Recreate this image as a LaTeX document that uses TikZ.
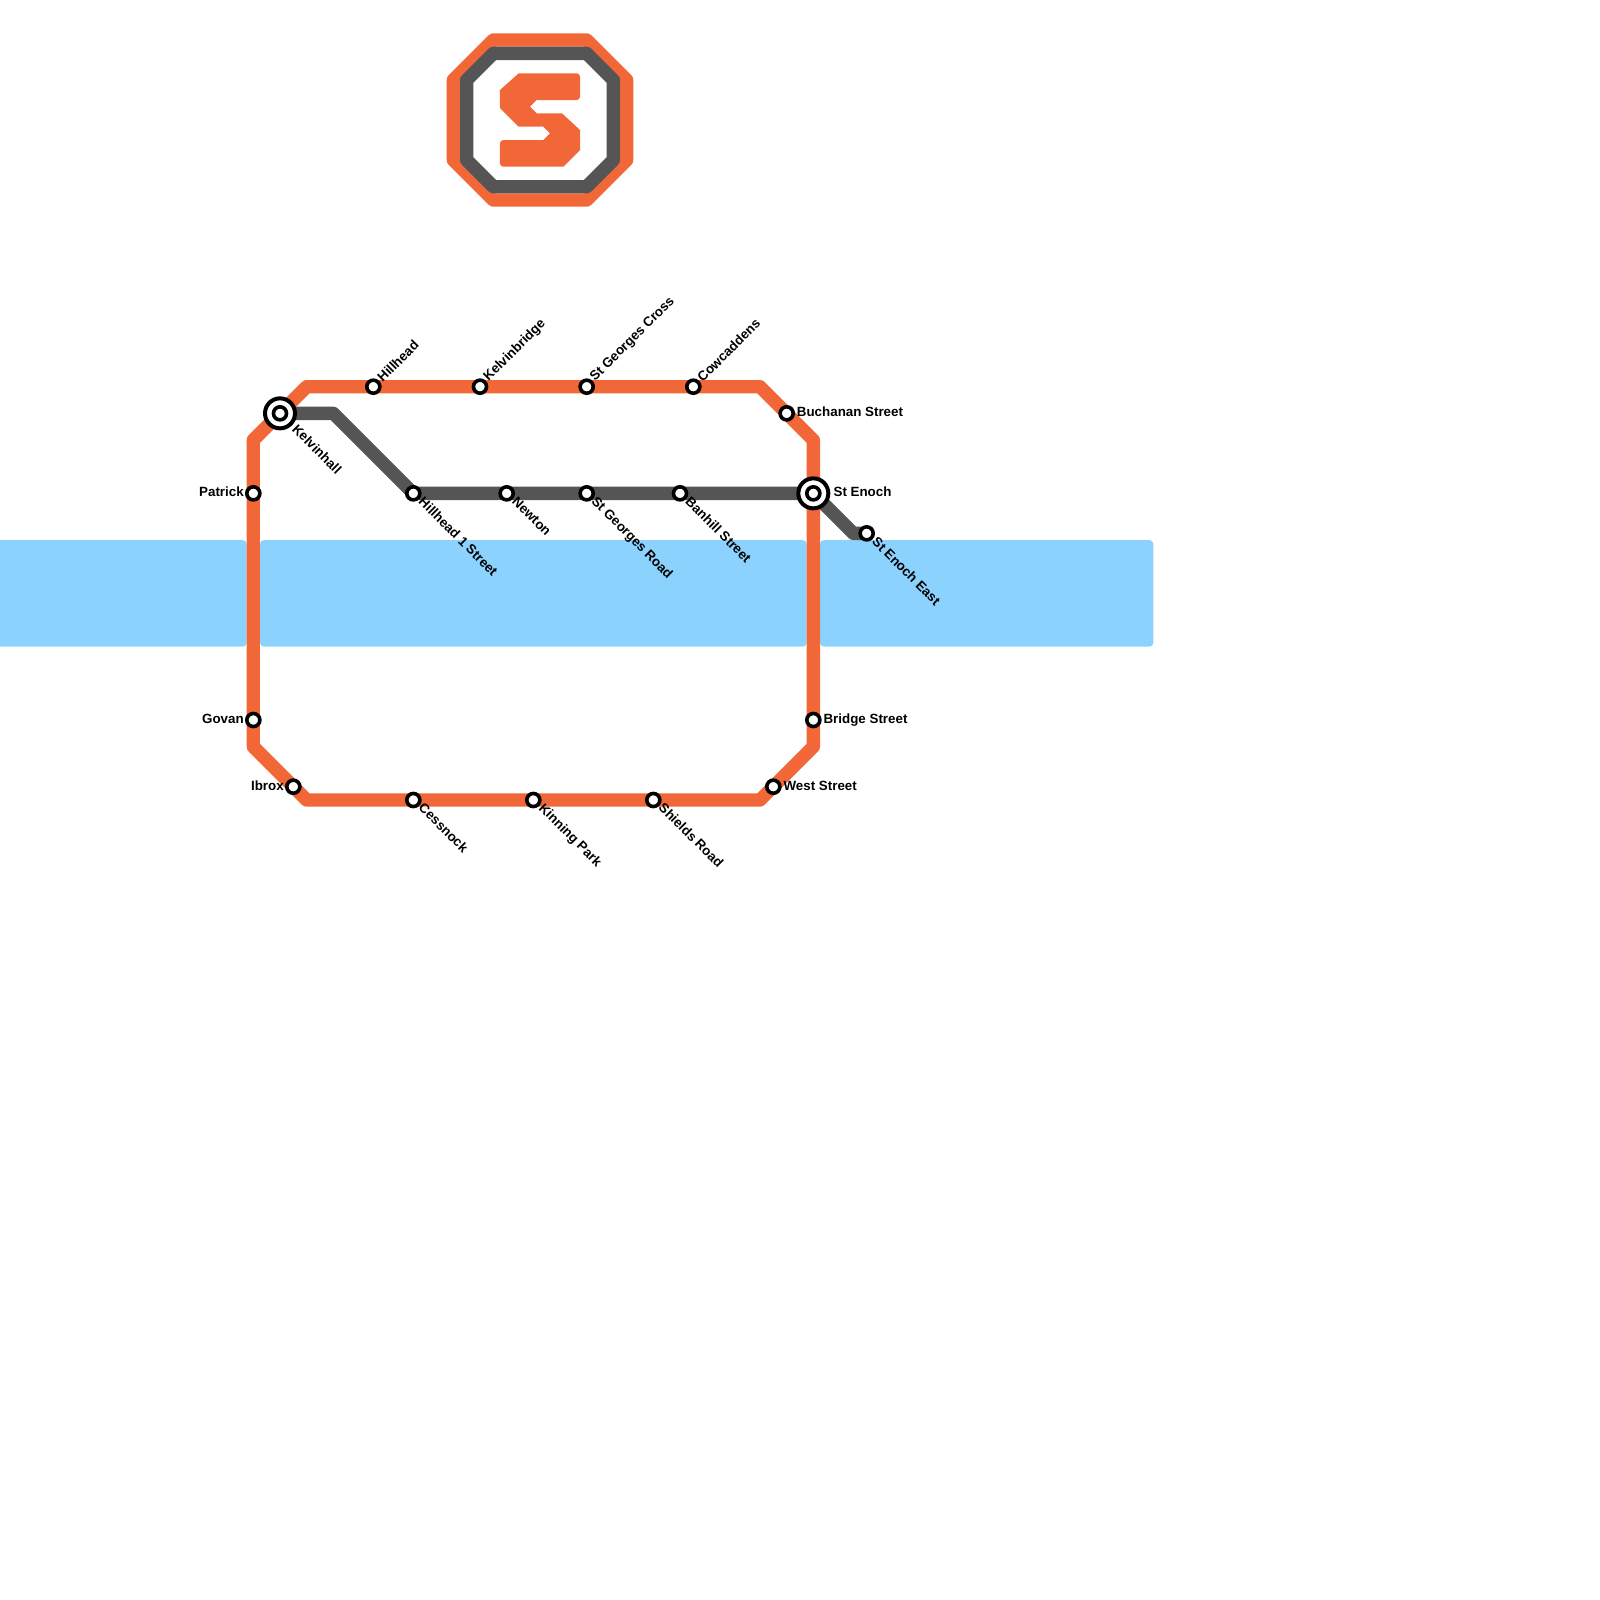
\documentclass[tikz,border=0pt]{standalone}
\usepackage{fontspec}
\setmainfont{Liberation Sans}
\usepackage{tikz}
\usetikzlibrary{backgrounds,calc}
\definecolor{subwayorange}{HTML}{F26738}
\definecolor{subwaygrey}{HTML}{555555}
\definecolor{riverblue}{HTML}{8CD2FF}

\begin{document}
\begin{tikzpicture}[
  x=1mm, y=-1mm,
  every node/.style={font=\fontsize{2.85pt}{3.2pt}\selectfont\bfseries, text=black, inner sep=0pt},
  stop/.style={
    circle,
    draw=black,
    fill=white,
    line width=0.27mm,
    minimum size=0.98mm
  },
  hub/.style={
    circle,
    draw=black,
    fill=white,
    line width=0.3mm,
    minimum size=2.25mm
  },
  eastlabel/.style={anchor=west},
  westlabel/.style={anchor=east},
  uplabel/.style={anchor=west, rotate=45},
  downlabel/.style={anchor=west, rotate=-45},
  orangeline/.style={draw=subwayorange, line width=1mm, line join=round},
  greyline/.style={draw=subwaygrey, line width=1mm, line join=round},
  river/.style={fill=riverblue, rounded corners=0.3mm}
]
\useasboundingbox (0,0) rectangle (120,120);

% stations
\node[stop] (patrick) at (19,37) {};
\node[stop] (govan) at (19,54) {};
\node[stop] (ibrox) at (22,59) {};
\node[stop] (cessnock) at (31,60) {};
\node[stop] (kinning) at (40,60) {};
\node[stop] (shields) at (49,60) {};
\node[stop] (west) at (58,59) {};
\node[stop] (bridge) at (61,54) {};
\node[hub] (enoch) at (61,37) {};
\node[stop] (enochcore) at (61,37) {};
\node[stop] (buchanan) at (59,31) {};
\node[stop] (cowcaddens) at (52,29) {};
\node[stop] (georgescross) at (44,29) {};
\node[stop] (kelvinbridge) at (36,29) {};
\node[stop] (hillhead) at (28,29) {};
\node[hub] (kelvinhall) at (21,31) {};
\node[stop] (kelvinhallcore) at (21,31) {};
\node[stop] (hillheadone) at (31,37) {};
\node[stop] (newton) at (38,37) {};
\node[stop] (georgesroad) at (44,37) {};
\node[stop] (banhill) at (51,37) {};
\node[stop] (enocheast) at (65,40) {};

% labels
\node[westlabel] (patricktext) at (18.35,36.9) {Patrick};
\node[westlabel] (govantext) at (18.35,53.95) {Govan};
\node[westlabel] (ibroxtext) at (21.35,58.95) {Ibrox};
\node[eastlabel] (westtext) at (58.7,58.95) {West Street};
\node[eastlabel] (bridgetext) at (61.7,54) {Bridge Street};
\node[eastlabel] (enochtext) at (62.45,36.9) {St Enoch};
\node[eastlabel] (buchanantext) at (59.7,30.9) {Buchanan Street};
\node[uplabel] (hillheadtext) at (28.42,28.5) {Hillhead};
\node[uplabel] (kelvinbridgetext) at (36.42,28.5) {Kelvinbridge};
\node[uplabel] (georgescrosstext) at (44.42,28.5) {St Georges Cross};
\node[uplabel] (cowcaddenstext) at (52.42,28.5) {Cowcaddens};
\node[downlabel] (kelvinhalltext) at (22.05,31.95) {Kelvinhall};
\node[downlabel] (hillheadonetext) at (31.55,37.4) {Hillhead 1 Street};
\node[downlabel] (newtontext) at (38.55,37.4) {Newton};
\node[downlabel] (georgesroadtext) at (44.45,37.45) {St Georges Road};
\node[downlabel] (banhilltext) at (51.55,37.4) {Banhill Street};
\node[downlabel] (enocheasttext) at (65.55,40.4) {St Enoch East};
\node[downlabel] (cessnocktext) at (31.55,60.35) {Cessnock};
\node[downlabel] (kinningtext) at (40.5,60.45) {Kinning Park};
\node[downlabel] (shieldstext) at (49.55,60.35) {Shields Road};

% bends
\coordinate (bendnw) at (19,33);
\coordinate (bendnn) at (23,29);
\coordinate (bendne) at (57,29);
\coordinate (bendee) at (61,33);
\coordinate (bendse) at (61,56);
\coordinate (bendss) at (57,60);
\coordinate (bendsw) at (23,60);
\coordinate (bendww) at (19,56);
\coordinate (bendgreya) at (25,31);
\coordinate (bendgreyb) at (64,40);

\begin{pgfonlayer}{background}
  \foreach \riverleft/\riverright in {-0.5/18.5,19.5/60.5,61.5/86.5}
    \fill[river] (\riverleft,40.5) rectangle (\riverright,48.5);

  \draw[greyline] (kelvinhall.center) -- (bendgreya) -- (hillheadone.center) -- (newton.center) -- (georgesroad.center) -- (banhill.center) -- (enoch.center) -- (bendgreyb) -- (enocheast.center);
  \draw[orangeline] (patrick.center) -- (bendnw) -- (kelvinhall.center) -- (bendnn) -- (hillhead.center) -- (kelvinbridge.center) -- (georgescross.center) -- (cowcaddens.center) -- (bendne) -- (buchanan.center) -- (bendee) -- (enoch.center) -- (bridge.center) -- (bendse) -- (west.center) -- (bendss) -- (shields.center) -- (kinning.center) -- (cessnock.center) -- (bendsw) -- (ibrox.center) -- (bendww) -- (govan.center) -- cycle;
\end{pgfonlayer}

% logo
\draw[orangeline] (37,3) -- (44,3) -- (47,6) -- (47,12) -- (44,15) -- (37,15) -- (34,12) -- (34,6) -- cycle;
\draw[greyline] (37,4) -- (44,4) -- (46,6) -- (46,12) -- (44,14) -- (37,14) -- (35,12) -- (35,6) -- cycle;
\fill[subwayorange, rounded corners=0.25mm] (38.9,5.5) -- (43.5,5.5) -- (43.5,7.5) [sharp corners] -- (40.25,7.5) -- (39.75,8) -- (40.25,8.5) -- (42.15,8.5) -- (43.5,9.75) -- (43.5,11.25) -- (42.25,12.5) [rounded corners=0.25mm] -- (37.5,12.5) -- (37.5,10.5) [sharp corners] -- (40.75,10.5) -- (41.25,10) -- (40.75,9.5) -- (38.9,9.5) -- (37.5,8.1) -- (37.5,6.75) -- cycle;
\end{tikzpicture}
\end{document}
